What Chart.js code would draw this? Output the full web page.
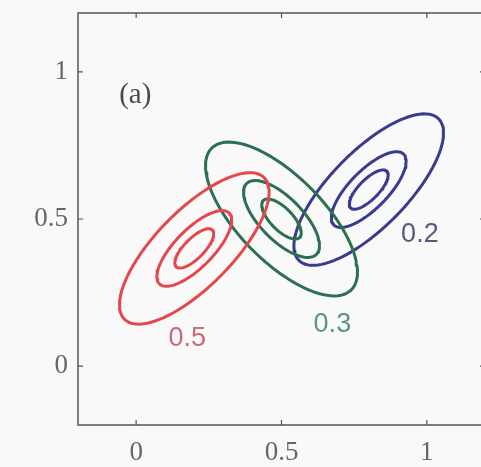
<!DOCTYPE html>
<html>
<head>
<meta charset="utf-8">
<script src="https://cdn.jsdelivr.net/npm/chart.js@4/dist/chart.umd.min.js"></script>
<style>
  html, body { margin: 0; padding: 0; background: #f9f9f9; overflow: hidden; }
  #wrap { width: 490px; height: 467px; }
</style>
</head>
<body>
<div id="wrap"><canvas id="contours" width="490" height="467"></canvas></div>
<script>
// mixture components (weight label, centre, ellipse shape)
const weights = ['0.5', '0.3', '0.2'];
const centerX = [0.2, 0.5, 0.8];
const centerY = [0.4, 0.5, 0.6];
const semiMajor = [0.34, 0.34, 0.34];
const semiMinor = [0.13, 0.145, 0.13];
const angleDeg = [45, -45, 45];
const levelScale = [1, 0.5, 0.26];
const lineColors = ['#e4474c', '#2c7050', '#383b8e'];
const labelColors = ['#c96b78', '#5f9580', '#555b7c'];
const labelX = [0.176, 0.675, 0.976];
const labelY = [0.095, 0.142, 0.446];
const xTicks = [0, 0.5, 1];
const yTicks = [0, 0.5, 1];

// outline of one contour from its centre, axes and rotation
function outline(i, s) {
    const pts = [];
    const t = angleDeg[i] * Math.PI / 180;
    for (let k = 0; k <= 96; k++) {
        const u = k / 96 * 2 * Math.PI;
        const ex = semiMajor[i] * s * Math.cos(u);
        const ey = semiMinor[i] * s * Math.sin(u);
        pts.push({
            x: centerX[i] + ex * Math.cos(t) - ey * Math.sin(t),
            y: centerY[i] + ex * Math.sin(t) + ey * Math.cos(t)
        });
    }
    return pts;
}

const datasets = [];
weights.forEach((w, i) => {
    levelScale.forEach(s => {
        datasets.push({
            label: w,
            data: outline(i, s),
            showLine: true,
            borderColor: lineColors[i],
            borderWidth: 3,
            borderCapStyle: 'round',
            borderJoinStyle: 'round',
            pointRadius: 0,
            tension: 0,
            fill: false
        });
    });
});

const frame = {
    id: 'frame',
    afterDatasetsDraw(chart) {
        const { ctx, chartArea: a, scales: { x, y } } = chart;
        ctx.save();
        ctx.strokeStyle = '#555';
        ctx.lineWidth = 1.5;
        ctx.strokeRect(a.left, a.top, a.right - a.left, a.bottom - a.top);
        // inward ticks on all four sides
        ctx.lineWidth = 1.2;
        ctx.beginPath();
        xTicks.forEach(v => {
            const px = x.getPixelForValue(v);
            ctx.moveTo(px, a.bottom); ctx.lineTo(px, a.bottom - 5);
            ctx.moveTo(px, a.top); ctx.lineTo(px, a.top + 5);
        });
        yTicks.forEach(v => {
            const py = y.getPixelForValue(v);
            ctx.moveTo(a.left, py); ctx.lineTo(a.left + 5, py);
            ctx.moveTo(a.right, py); ctx.lineTo(a.right - 5, py);
        });
        ctx.stroke();

        // weight labels
        ctx.font = '27px "Liberation Sans", Arial, sans-serif';
        ctx.textAlign = 'center';
        ctx.textBaseline = 'middle';
        weights.forEach((w, i) => {
            ctx.fillStyle = labelColors[i];
            ctx.fillText(w, x.getPixelForValue(labelX[i]), y.getPixelForValue(labelY[i]));
        });

        // panel tag
        ctx.font = '29px "Liberation Serif", "Times New Roman", serif';
        ctx.fillStyle = '#4a4a4a';
        ctx.fillText('(a)', x.getPixelForValue(-0.003), y.getPixelForValue(0.92));
        ctx.restore();
    }
};

const tickFont = { family: '"Liberation Serif", "Times New Roman", serif', size: 27 };

new Chart(document.getElementById('contours'), {
    type: 'scatter',
    data: { datasets: datasets },
    options: {
        responsive: false,
        animation: false,
        layout: { padding: { left: 0, top: 13, right: 5, bottom: 0 } },
        plugins: { legend: { display: false }, tooltip: { enabled: false } },
        scales: {
            x: {
                type: 'linear',
                min: -0.2, max: 1.2,
                grid: { display: false, drawTicks: false },
                border: { display: false },
                afterFit: s => { s.height = 42; s.paddingLeft = 0; s.paddingRight = 0; },
                afterBuildTicks: s => { s.ticks = xTicks.map(v => ({ value: v })); },
                ticks: {
                    padding: 12,
                    color: '#666',
                    font: tickFont,
                    callback: v => String(v)
                }
            },
            y: {
                type: 'linear',
                min: -0.2, max: 1.2,
                grid: { display: false, drawTicks: false },
                border: { display: false },
                afterFit: s => { s.width = 78; s.paddingTop = 0; s.paddingBottom = 0; },
                afterBuildTicks: s => { s.ticks = yTicks.map(v => ({ value: v })); },
                ticks: {
                    padding: 10,
                    color: '#666',
                    font: tickFont,
                    callback: v => String(v)
                }
            }
        }
    },
    plugins: [frame]
});
</script>
</body>
</html>
